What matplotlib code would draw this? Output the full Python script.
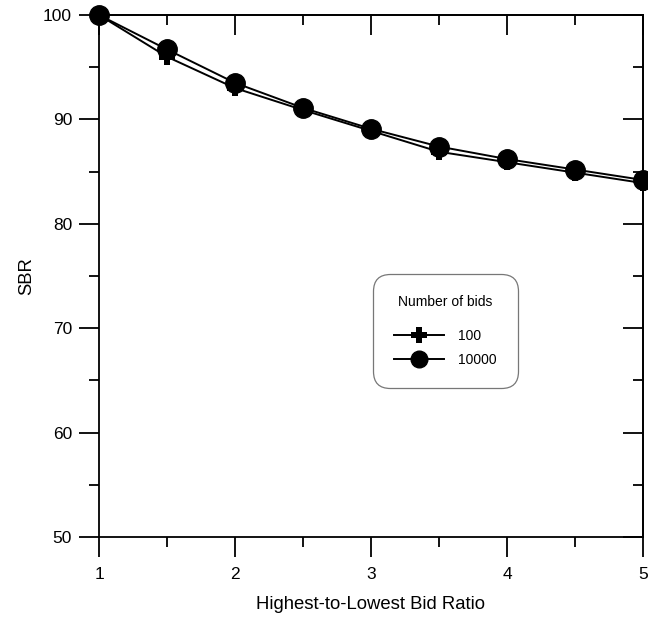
import matplotlib
matplotlib.use("Agg")
import matplotlib.pyplot as plt
from matplotlib.ticker import MultipleLocator

plt.rcParams['font.family'] = ['Liberation Sans', 'DejaVu Sans']

ratio = [1.0, 1.5, 2.0, 2.5, 3.0, 3.5, 4.0, 4.5, 5.0]
sbr_100 = [100.0, 96.0, 93.0, 90.9, 88.9, 86.9, 85.9, 84.9, 83.9]
sbr_10000 = [100.0, 96.7, 93.5, 91.1, 89.1, 87.4, 86.2, 85.2, 84.2]
series_labels = ["100", "10000"]

fig = plt.figure(figsize=(6.48, 6.17), dpi=100)
ax = fig.add_axes([99/648, 1-537/617, (643-99)/648, (537-15)/617])

ax.plot(ratio, sbr_100, color='black', lw=1.4, marker='P', ms=12, mfc='black', mec='black', mew=0,
        label=series_labels[0], zorder=3, clip_on=False)
ax.plot(ratio, sbr_10000, color='black', lw=1.4, marker='o', ms=14, mfc='black', mec='black',
        label=series_labels[1], zorder=4, clip_on=False)

ax.set_xlim(1, 5)
ax.set_ylim(50, 100)
ax.xaxis.set_major_locator(MultipleLocator(1))
ax.xaxis.set_minor_locator(MultipleLocator(0.5))
ax.yaxis.set_major_locator(MultipleLocator(10))
ax.yaxis.set_minor_locator(MultipleLocator(5))

for side in ['left', 'right', 'top', 'bottom']:
    ax.spines[side].set_linewidth(1.3)

ax.tick_params(axis='both', which='major', direction='out', length=14.4, width=1.3, labelsize=12.5, pad=5)
ax.tick_params(axis='x', which='major', pad=7)
ax.tick_params(axis='both', which='minor', direction='out', length=7, width=1.3)
ax2 = ax.secondary_xaxis('top')
ax2.xaxis.set_major_locator(MultipleLocator(1))
ax2.xaxis.set_minor_locator(MultipleLocator(0.5))
ax2.tick_params(which='major', direction='in', length=14.4, width=1.3, labeltop=False)
ax2.tick_params(which='minor', direction='in', length=7, width=1.3)
ax3 = ax.secondary_yaxis('right')
ax3.yaxis.set_major_locator(MultipleLocator(10))
ax3.yaxis.set_minor_locator(MultipleLocator(5))
ax3.tick_params(which='major', direction='in', length=14.4, width=1.3, labelright=False)
ax3.tick_params(which='minor', direction='in', length=7, width=1.3)
ax2.spines['top'].set_linewidth(1.3)
ax3.spines['right'].set_linewidth(1.3)

ax.set_xlabel('Highest-to-Lowest Bid Ratio', fontsize=13.3)
ax.xaxis.set_label_coords(0.5, -(596 - 537) / 522)
ax.set_ylabel('SBR', fontsize=13.3)
ax.yaxis.set_label_coords((35 - 99) / 544, 0.5)

leg = ax.legend(title='Number of bids', loc='center', bbox_to_anchor=((445.5 - 99) / 544, (537 - 331) / 522),
                fontsize=10, title_fontsize=10, frameon=True, fancybox=True,
                edgecolor='#555555', borderpad=1.5, labelspacing=0.75,
                handlelength=3.6, handletextpad=1.0, borderaxespad=0)
leg.get_frame().set_linewidth(0.9)
leg.get_frame().set_boxstyle('round,pad=0.0,rounding_size=1.2')
leg._legend_box.sep = 14
for h in leg.legend_handles:
    h.set_markersize(12)

fig.savefig('out.png', dpi=100)
